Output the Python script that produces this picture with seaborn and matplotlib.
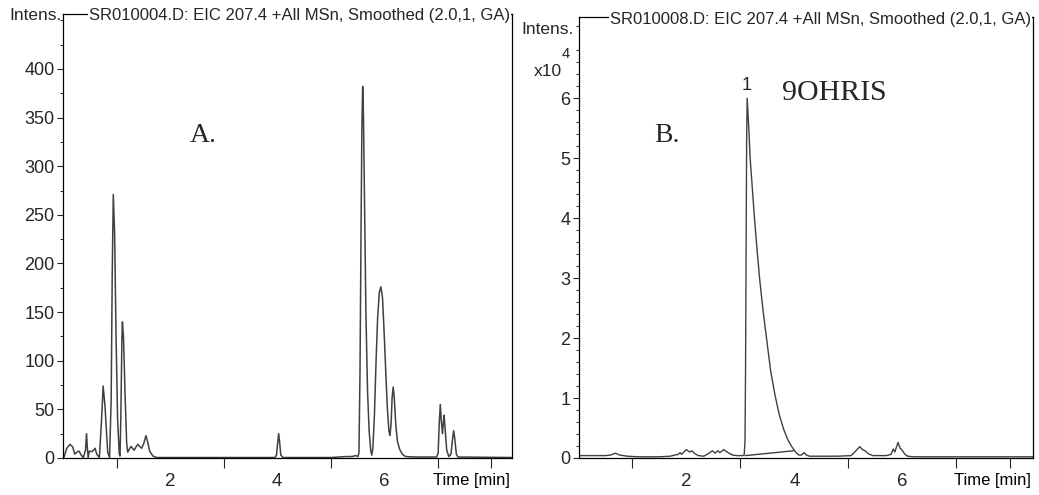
import matplotlib
matplotlib.use("Agg")
import matplotlib.pyplot as plt
from matplotlib.ticker import FixedLocator, NullFormatter
from matplotlib.transforms import ScaledTranslation
import seaborn as sns

# ── panel A: SR010004.D, EIC 207.4 (counts) ─────────────────────────────
time_a = [0.00, 0.02, 0.07, 0.13, 0.18, 0.22, 0.27, 0.30, 0.34, 0.38, 0.42, 0.44, 0.455,
          0.47, 0.49, 0.54, 0.57, 0.60, 0.63, 0.68, 0.72, 0.75, 0.785, 0.835, 0.87,
          0.90, 0.92, 0.94, 0.965, 0.99, 1.02, 1.05, 1.065, 1.08, 1.10, 1.11, 1.13, 1.16,
          1.19, 1.21, 1.24, 1.27, 1.30, 1.33, 1.37, 1.40, 1.43, 1.47, 1.51, 1.55, 1.58,
          1.62, 1.68, 1.75,
          2.50, 3.50, 3.96, 3.99, 4.01, 4.03, 4.05, 4.07, 4.11, 5.00,
          5.30, 5.40, 5.47, 5.51, 5.53, 5.55, 5.57, 5.585, 5.60, 5.615, 5.635, 5.66, 5.69,
          5.72, 5.75, 5.77, 5.79, 5.82, 5.85, 5.88, 5.91, 5.94, 5.97, 6.00, 6.03, 6.06,
          6.09, 6.11, 6.13, 6.15, 6.17, 6.19, 6.22, 6.25, 6.29, 6.34, 6.40, 6.60,
          6.98, 7.01, 7.03, 7.05, 7.07, 7.09, 7.105, 7.12, 7.14, 7.17, 7.21, 7.25, 7.28,
          7.30, 7.32, 7.35, 7.38, 8.40]
intens_a = [1, 1, 10, 14, 11.5, 4, 6.5, 7, 3, 0.5, 8, 25, 10,
            0.5, 7, 6.5, 8, 10, 4, 0.5, 39, 74, 53, 6, 0.5,
            60, 190, 271, 230, 130, 40, 5, 2, 40, 120, 140, 125, 65,
            15, 6, 9, 12, 10, 8, 12, 14, 12, 10, 15, 23, 17,
            7, 2, 0.5,
            0.5, 0.5, 0.5, 3, 15, 25, 15, 3, 0.5, 0.5,
            1.5, 1.5, 2.5, 1.5, 5, 90, 240, 340, 382, 350, 260, 150, 70,
            28, 8, 3, 10, 45, 100, 145, 170, 176, 165, 130, 90, 52,
            28, 23, 35, 62, 73, 62, 33, 17, 9, 4, 1.5, 1,
            1, 5, 35, 55, 38, 25, 35, 44, 30, 8, 1.5, 4, 20,
            28, 20, 4, 1, 0.5]

# ── panel B: SR010008.D, EIC 207.4 (x10^4 counts) ───────────────────────
time_b = [0.00, 0.50, 0.60, 0.68, 0.76, 0.90, 1.10, 1.50, 1.70, 1.79, 1.85, 1.88, 1.91,
          1.96, 2.00, 2.04, 2.06, 2.10, 2.16, 2.22, 2.32, 2.40, 2.48, 2.53, 2.58, 2.62,
          2.69, 2.77, 2.85, 2.93, 3.04, 3.07,
          3.085, 3.095, 3.105, 3.115, 3.125, 3.155, 3.18, 3.22, 3.26, 3.31, 3.36, 3.42,
          3.49, 3.56, 3.64, 3.72, 3.80, 3.88, 3.95, 4.02, 4.08,
          4.13, 4.18, 4.22, 4.28, 4.80, 5.05, 5.13, 5.21, 5.26, 5.31, 5.37, 5.45, 5.70,
          5.79, 5.83, 5.86, 5.92, 5.96, 5.98, 6.01, 6.05, 6.10, 6.20, 8.42]
intens_b = [0.04, 0.04, 0.05, 0.08, 0.05, 0.03, 0.02, 0.02, 0.03, 0.05, 0.06, 0.09, 0.06,
            0.11, 0.14, 0.11, 0.10, 0.12, 0.07, 0.04, 0.03, 0.07, 0.12, 0.08, 0.12, 0.09,
            0.14, 0.09, 0.05, 0.04, 0.04, 0.05,
            0.3, 1.5, 3.5, 5.3, 6.0, 5.5, 5.0, 4.5, 4.0, 3.45, 2.95, 2.45,
            1.95, 1.45, 1.05, 0.72, 0.48, 0.30, 0.19, 0.10, 0.05,
            0.05, 0.09, 0.05, 0.03, 0.03, 0.04, 0.11, 0.19, 0.14, 0.12, 0.07, 0.04, 0.04,
            0.06, 0.15, 0.10, 0.26, 0.16, 0.15, 0.11, 0.06, 0.03, 0.02, 0.02]

# integration baseline under peak 1
base_t = [3.09, 3.98]
base_i = [0.04, 0.12]
peak1_t, peak1_i = 3.11, 6.05

# tick positions
yticks_a = [0, 50, 100, 150, 200, 250, 300, 350, 400]
yminor_a = [25, 75, 125, 175, 225, 275, 325, 375, 425, 450]
yticks_b = [0, 1, 2, 3, 4, 5, 6]
yminor_b = [i / 5 for i in range(1, 37) if i % 5]
xticks = [2, 4, 6]
xminor = [1, 3, 5, 7, 8]

TRACE = "#404040"

sns.set_style("ticks")
plt.rcParams["font.family"] = ["Liberation Sans", "DejaVu Sans"]
plt.rcParams["axes.linewidth"] = 0.9

W, H = 1039, 495
fig = plt.figure(figsize=(W / 100, H / 100), dpi=100)

ax_a = fig.add_axes([63 / W, 1 - 458 / H, (512 - 63) / W, (458 - 13.5) / H])
ax_b = fig.add_axes([578.5 / W, 1 - 458 / H, (1033 - 578.5) / W, (458 - 17.3) / H])

sns.lineplot(x=time_a, y=intens_a, ax=ax_a, color=TRACE, linewidth=1.1,
             estimator=None, sort=False)
sns.lineplot(x=time_b, y=intens_b, ax=ax_b, color=TRACE, linewidth=1.0,
             estimator=None, sort=False)
sns.lineplot(x=base_t, y=base_i, ax=ax_b, color=TRACE, linewidth=1.0,
             estimator=None, sort=False)

ax_a.set_xlim(0, 8.39)
ax_a.set_ylim(0, 457)
ax_b.set_xlim(0, 8.42)
ax_b.set_ylim(0, 7.35)

ax_a.yaxis.set_major_locator(FixedLocator(yticks_a))
ax_a.yaxis.set_minor_locator(FixedLocator(yminor_a))
ax_b.yaxis.set_major_locator(FixedLocator(yticks_b))
ax_b.yaxis.set_minor_locator(FixedLocator(yminor_b))

shift = ScaledTranslation(-2 / 100, -15 / 100, fig.dpi_scale_trans)
for ax in (ax_a, ax_b):
    ax.xaxis.set_major_locator(FixedLocator(xticks))
    ax.xaxis.set_minor_locator(FixedLocator(xminor))
    ax.xaxis.set_minor_formatter(NullFormatter())
    ax.tick_params(axis="x", which="major", length=0, pad=11, labelsize=13.5)
    ax.tick_params(axis="x", which="minor", length=7, width=0.8, direction="out")
    ax.tick_params(axis="y", which="major", length=4, width=0.8, pad=2, labelsize=13)
    ax.tick_params(axis="y", which="minor", length=2.5, width=0.7)
    for s in ax.spines.values():
        s.set_visible(True)
        s.set_color("black")
    ax.set_xlabel("")
    ax.set_ylabel("")
    ax.text(1.0, 0, "Time [min]", transform=ax.transAxes + shift,
            ha="right", va="top", fontsize=12, color="black")

title_shift = ScaledTranslation(0, -2 / 100, fig.dpi_scale_trans)
ax_a.text(0.996, 1.0, "SR010004.D: EIC 207.4 +All MSn, Smoothed (2.0,1, GA)",
          transform=ax_a.transAxes + title_shift, ha="right", va="center", fontsize=12,
          bbox=dict(facecolor="white", edgecolor="none", pad=0.5))
ax_b.text(0.996, 1.0, "SR010008.D: EIC 207.4 +All MSn, Smoothed (2.0,1, GA)",
          transform=ax_b.transAxes + title_shift, ha="right", va="center", fontsize=12,
          bbox=dict(facecolor="white", edgecolor="none", pad=0.5))

fig.text(62 / W, 1 - 15 / H, "Intens.", ha="right", va="center", fontsize=12.5)
fig.text(574 / W, 1 - 30 / H, "Intens.", ha="right", va="center", fontsize=12.5)
fig.text(562 / W, 1 - 71 / H, "x10", ha="right", va="center", fontsize=12.5)
fig.text(562 / W, 1 - 54 / H, "4", ha="left", va="center", fontsize=10.5)

serif = ["Liberation Serif", "DejaVu Serif"]
ax_a.text(0.283, 0.711, "A.", transform=ax_a.transAxes, ha="left", va="baseline",
          fontsize=20, family=serif)
ax_b.text(0.166, 0.717, "B.", transform=ax_b.transAxes, ha="left", va="baseline",
          fontsize=20, family=serif)
ax_b.text(0.448, 0.812, "9OHRIS", transform=ax_b.transAxes, ha="left", va="baseline",
          fontsize=21.5, family=serif)
ax_b.text(peak1_t, peak1_i + 0.02, "1", ha="center", va="bottom", fontsize=13)

fig.savefig("out.png", dpi=100, facecolor="white")
